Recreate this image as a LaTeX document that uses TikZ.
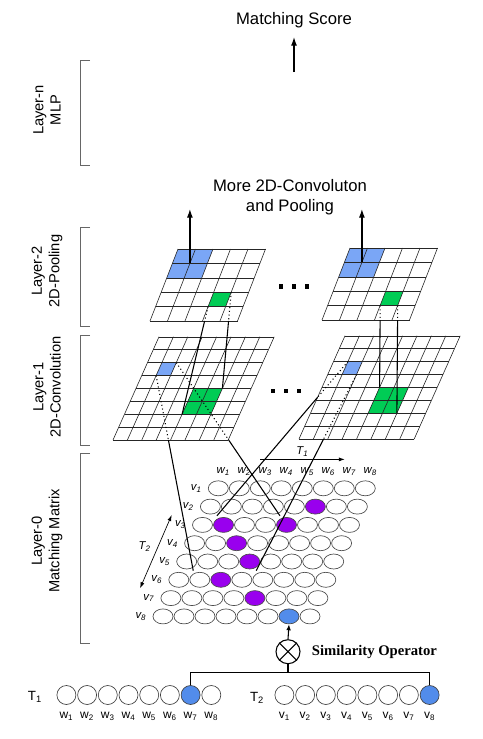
\documentclass[tikz,border=0pt]{standalone}
\usepackage{fontspec}
\setmainfont{Liberation Sans}
\newfontfamily\serifbold{Liberation Serif}
\usetikzlibrary{calc,positioning,shapes.geometric,arrows.meta}

\definecolor{cellblue}{RGB}{122,166,246}
\definecolor{cellgreen}{RGB}{0,204,85}
\definecolor{wordpurple}{RGB}{153,0,238}
\definecolor{tokblue}{RGB}{82,140,235}

\tikzset{
  bracket/.style={draw=black!60, line width=0.7pt},
  layerlabel/.style={rotate=90, align=center, font=\fontsize{11}{13}\selectfont},
  gridline/.style={draw=black!85, line width=0.45pt},
  link/.style={line width=0.8pt},
  uplink/.style={line width=0.9pt, -{Latex[length=6.5pt,width=4.5pt]}},
  hidden/.style={line width=0.8pt, dotted},
  span/.style={line width=0.5pt},
  wordcell/.style={ellipse, draw=black!70, line width=0.5pt, fill=white,
    minimum width=15pt, minimum height=11.25pt, inner sep=0pt},
  wlabel/.style={font=\fontsize{8.5}{10}\selectfont\itshape, inner sep=0pt},
  tok/.style={circle, draw=black!75, line width=0.5pt, fill=white,
    minimum size=14.25pt, inner sep=0pt},
  toklabel/.style={font=\fontsize{9}{10}\selectfont, inner sep=0pt},
  % highlighted cells of the matching matrix
  hl-2-6/.style={fill=wordpurple}, hl-3-2/.style={fill=wordpurple},
  hl-3-5/.style={fill=wordpurple}, hl-4-3/.style={fill=wordpurple},
  hl-5-4/.style={fill=wordpurple}, hl-6-3/.style={fill=wordpurple},
  hl-7-5/.style={fill=wordpurple}, hl-8-7/.style={fill=tokblue},
  tk-w7/.style={fill=tokblue}, tk-v8/.style={fill=tokblue}
}

\begin{document}
\begin{tikzpicture}[x=0.75pt,y=-0.75pt]
\useasboundingbox (0,0) rectangle (482,739);

% layer brackets and names
\foreach \t/\b in {60/165,227/326,335/445,453/643}
  \draw[bracket] (90,\t) -| (80,\b) -- (90,\b);
\node[layerlabel] (lab-n) at (47,110) {Layer-n\\MLP};
\node[layerlabel] (lab-2) at (47,271) {Layer-2\\2D-Pooling};
\node[layerlabel] (lab-1) at (47,387) {Layer-1\\2D-Convolution};
\node[layerlabel] (lab-0) at (47,541) {Layer-0\\Matching Matrix};

% output
\node[font=\fontsize{12.5}{15}\selectfont] (score) at (294,20) {Matching Score};
\coordinate (mlp-in) at (294,72);
\coordinate (mlp-out) at (294,37);
\draw[uplink] (mlp-in) -- (mlp-out);
\node[align=center, font=\fontsize{12.5}{15}\selectfont] (more) at (290,197)
  {More 2D-Convoluton\\and Pooling};
\coordinate (more-lvl) at (0,209);

% pooling maps
\foreach \g/\gx/\gy in {pL/150/321,pR/322/320}{
  \begin{scope}[shift={(\gx,\gy)}, x={(13.125pt,0pt)}, y={(4.2pt,10.8pt)}]
    \fill[cellblue] (0,3) -- (2,3) -- (2,5) -- (0,5) -- cycle;
    \fill[cellgreen] (3,1) -- (4,1) -- (4,2) -- (3,2) -- cycle;
    \foreach \j in {0,...,5} \draw[gridline] (0,\j) -- (5,\j);
    \foreach \i in {0,...,5} \draw[gridline] (\i,0) -- (\i,5);
    \coordinate (\g-b) at (1,4);
    \coordinate (\g-g1) at (3,1);
    \coordinate (\g-g2) at (4,2);
    \coordinate (\g-g4) at (4,1);
    \coordinate (\g-bl) at (0,0);
    \coordinate (\g-br) at (5,0);
  \end{scope}
}

% convolution maps
\foreach \g/\gx/\gy in {cL/113/440,cR/299/439}{
  \begin{scope}[shift={(\gx,\gy)}, x={(10.8pt,0pt)}, y={(4.3125pt,9.675pt)}]
    \fill[cellblue] (1,5) -- (2,5) -- (2,6) -- (1,6) -- cycle;
    \fill[cellgreen] (4,2) -- (6,2) -- (6,4) -- (4,4) -- cycle;
    \foreach \j in {0,...,8} \draw[gridline] (0,\j) -- (8,\j);
    \foreach \i in {0,...,8} \draw[gridline] (\i,0) -- (\i,8);
    \coordinate (\g-b1) at (1,5);
    \coordinate (\g-b2) at (2,6);
    \coordinate (\g-b3) at (1,6);
    \coordinate (\g-b4) at (2,5);
    \coordinate (\g-g1) at (4,2);
    \coordinate (\g-g2) at (6,4);
    \coordinate (\g-g3) at (4,4);
    \coordinate (\g-g4) at (6,2);
    \coordinate (\g-bl) at (0,0);
    \coordinate (\g-br) at (8,0);
    \coordinate (\g-tl) at (0,8);
    \coordinate (\g-tr) at (8,8);
  \end{scope}
}

% dots between the maps
\foreach \x in {281,294,307} \fill (\x-2.3,284.2) rectangle ++(4.6,4.6);
\foreach \x in {273,286,299} \fill (\x-2.3,388.5) rectangle ++(4.6,4.6);

% matching matrix
\begin{scope}[shift={(211.75,479.15)}, x={(15.75pt,0pt)}, y={(-5.925pt,-13.725pt)}]
  \foreach \r in {1,...,8}
    \foreach \k in {1,...,8}
      \node[wordcell, hl-\r-\k/.try] (m-\r-\k) at (\k-0.5,\r-0.5) {};
  \foreach \k in {1,...,8}
    \node[wlabel] (mw-\k) at (\k-0.6,-0.4) {w\textsubscript{\k}};
  \foreach \r in {1,...,8}
    \node[wlabel] (mv-\r) at (-0.55,\r-0.5) {v\textsubscript{\r}};
  \coordinate (win-tl) at (1,2);
  \coordinate (win-tr) at (4,2);
  \coordinate (win-bl) at (1,5);
  \coordinate (win-br) at (4,5);
  \coordinate (t1-a) at (1.9,-1.08);
  \coordinate (t1-b) at (5.93,-1.08);
  \coordinate (t2-a) at (-1.17,1.96);
  \coordinate (t2-b) at (-1.17,5.96);
  \node[wlabel] (t2-lab) at (-1.8,3.7) {T\textsubscript{2}};
\end{scope}
\draw[span,-{Latex[length=4.5pt,width=3pt]}] (t1-a) -- (t1-b);
\node[wlabel] (t1-lab) at ($(t1-a)!0.5!(t1-b)+(0,-8)$) {T\textsubscript{1}};
\draw[span,{Latex[length=4.5pt,width=3pt]}-{Latex[length=4.5pt,width=3pt]}] (t2-a) -- (t2-b);

% pooling -> more layers
\draw[uplink] (pL-b) -- (pL-b |- more-lvl);
\draw[uplink] (pR-b) -- (pR-b |- more-lvl);

% pooling -> convolution
\coordinate (pL-x1) at (intersection of pL-g1--cL-g1 and pL-bl--pL-br);
\coordinate (pL-x2) at (intersection of pL-g2--cL-g2 and pL-bl--pL-br);
\coordinate (pR-x1) at (intersection of pR-g1--cR-g3 and pR-bl--pR-br);
\coordinate (pR-x2) at (intersection of pR-g4--cR-g4 and pR-bl--pR-br);
\draw[hidden] (pL-g1) -- (pL-x1) (pL-g2) -- (pL-x2)
  (pR-g1) -- (pR-x1) (pR-g4) -- (pR-x2);
\draw[link] (pL-x1) -- (cL-g1) (pL-x2) -- (cL-g2)
  (pR-x1) -- (cR-g3) (pR-x2) -- (cR-g4);

% convolution -> matching matrix
\coordinate (cL-x1) at (intersection of cL-b1--win-bl and cL-bl--cL-br);
\coordinate (cL-x2) at (intersection of cL-b2--win-tr and cL-br--cL-tr);
\coordinate (cR-x1) at (intersection of cR-b3--win-tl and cR-bl--cR-tl);
\coordinate (cR-x2) at (intersection of cR-b4--win-br and cR-bl--cR-br);
\draw[hidden] (cL-b1) -- (cL-x1) (cL-b2) -- (cL-x2)
  (cR-b3) -- (cR-x1) (cR-b4) -- (cR-x2);
\draw[link] (cL-x1) -- (win-bl) (cL-x2) -- (win-tr)
  (cR-x1) -- (win-tl) (cR-x2) -- (win-br);

% input texts
\node[font=\fontsize{10}{12}\selectfont] (t1) at (35,697) {T\textsubscript{1}};
\node[font=\fontsize{10}{12}\selectfont] (t2) at (257,698) {T\textsubscript{2}};
\foreach \k in {1,...,8}{
  \node[tok, tk-w\k/.try] (w\k) at ({45.7+20.7*\k},695) {};
  \node[toklabel] (w\k-lab) at ({45.7+20.7*\k},716.5) {w\textsubscript{\k}};
  \node[tok, tk-v\k/.try] (v\k) at ({263.65+20.75*\k},695) {};
  \node[toklabel] (v\k-lab) at ({263.65+20.75*\k},716.5) {v\textsubscript{\k}};
}

% similarity operator
\node[circle, draw, line width=0.8pt, minimum size=18pt, inner sep=0pt] (ox) at (288,651.7) {};
\draw[line width=0.8pt] (ox.north west) -- (ox.south east) (ox.north east) -- (ox.south west);
\node[right=5pt of ox, font=\serifbold\bfseries\fontsize{11}{13}\selectfont] (simop) {Similarity Operator};
\coordinate (bus) at (288,672.7);
\draw[link] (w7.north) |- (bus) -| (v8.north);
\draw[link] (ox.south) -- (bus);
\draw[link,-{Latex[length=4.5pt,width=3.5pt]}] (ox.north) -- (m-8-7.south);
\end{tikzpicture}
\end{document}
